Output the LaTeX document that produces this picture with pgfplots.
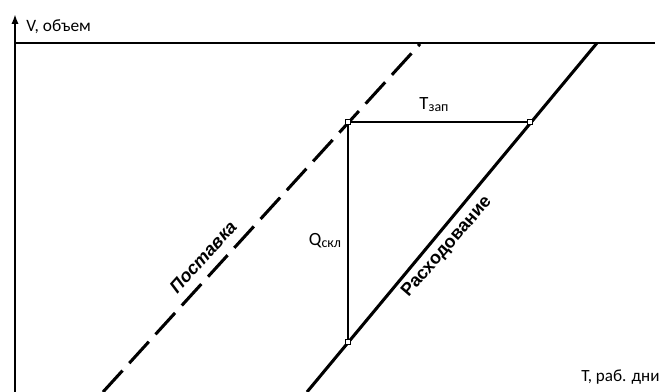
\documentclass[border=0pt]{standalone}
\usepackage{fontspec}
\setmainfont{Carlito}
\newfontfamily\arial{Liberation Sans}
\usepackage{pgfplots}
\pgfplotsset{compat=1.18}
\usetikzlibrary{arrows.meta}
\begin{document}
\begin{tikzpicture}
\begin{axis}[
  scale only axis, width=504pt, height=294pt,
  xmin=0, xmax=672, ymin=0, ymax=392,
  axis lines=none,
]
% y axis with arrow
\addplot[line width=1.5pt, -{Latex[length=7.5pt,width=5.5pt]}] coordinates {(15,0) (15,378)};
% top limit line
\addplot[line width=1pt] coordinates {(15,349) (655,349)};
% supply (dashed)
\addplot[line width=2.3pt, dash pattern=on 21.75pt off 7.5pt] coordinates {(103,0) (420,348)};
% consumption (solid)
\addplot[line width=2.3pt] coordinates {(307,0) (597,349)};
% horizontal and vertical segments
\addplot[line width=1.2pt] coordinates {(348,270) (530,270)};
\addplot[line width=1.2pt] coordinates {(348,270) (348,50)};
% small squares
\addplot[only marks, mark=square*, mark size=2pt, mark options={fill=white, draw=black, line width=0.5pt}] coordinates {(348,270) (530,270) (348,50)};
% labels
\node[anchor=base west, inner sep=0pt, font=\fontsize{13}{14}\selectfont] at (axis cs:26,360) {V, объем};
\node[anchor=base west, inner sep=0pt, font=\fontsize{12.8}{14}\selectfont] at (axis cs:581,10) {T, раб. дни};
\node[anchor=base, inner sep=0pt] at (axis cs:434,282) {{\fontsize{14}{15}\selectfont T}\raisebox{-1pt}{\fontsize{10.5}{11}\selectfont зап}};
\node[anchor=base, inner sep=0pt] at (axis cs:325,146) {{\fontsize{14}{15}\selectfont Q}\raisebox{-1pt}{\fontsize{10.5}{11}\selectfont скл}};
\node[rotate=48, inner sep=0pt, font=\arial\bfseries\itshape\fontsize{13.5}{14}\selectfont] at (axis cs:203,135) {Поставка};
\node[rotate=49, inner sep=0pt, font=\arial\bfseries\fontsize{13.5}{14}\selectfont] at (axis cs:447,145) {Расходование};
\end{axis}
\pgfresetboundingbox
\useasboundingbox (current axis.south west) rectangle (current axis.north east);
\end{tikzpicture}
\end{document}
